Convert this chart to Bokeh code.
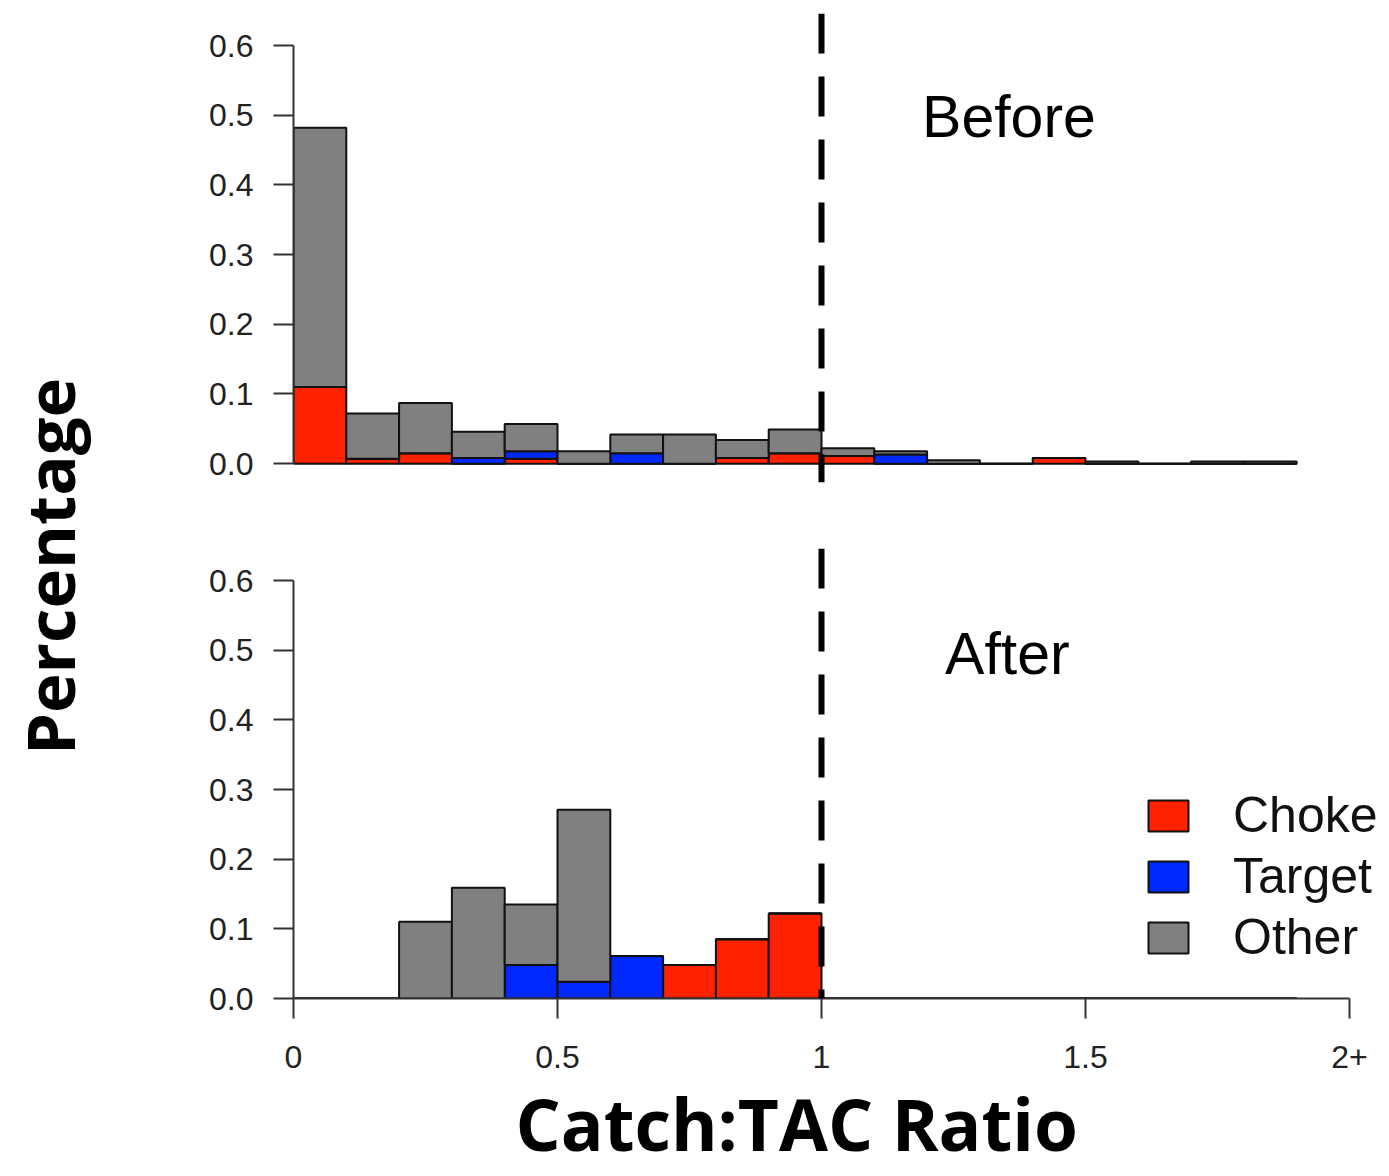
import math
from bokeh.plotting import figure
from bokeh.models import (ColumnDataSource, Range1d, FixedTicker, CustomJSTickFormatter,
                          Span, Label, Legend, LegendItem, Title)
from bokeh.layouts import row, column
from bokeh.embed import file_html
from bokeh.resources import INLINE

# ---------------- data ----------------
bin_starts = [0.0, 0.1, 0.2, 0.3, 0.4, 0.5, 0.6, 0.7, 0.8, 0.9,
              1.0, 1.1, 1.2, 1.3, 1.4, 1.5, 1.6, 1.7, 1.8]
bin_width = 0.1
categories = ["Choke", "Target", "Other"]

before_choke = [0.110, 0.007, 0.015, 0.000, 0.007, 0.000, 0.000, 0.000, 0.008, 0.015,
                0.011, 0.000, 0.000, 0.000, 0.008, 0.000, 0.000, 0.000, 0.000]
before_target = [0.000, 0.000, 0.000, 0.008, 0.011, 0.000, 0.015, 0.000, 0.000, 0.000,
                 0.000, 0.013, 0.000, 0.000, 0.000, 0.000, 0.000, 0.000, 0.000]
before_other = [0.372, 0.065, 0.072, 0.038, 0.039, 0.018, 0.027, 0.042, 0.026, 0.034,
                0.011, 0.005, 0.005, 0.000, 0.000, 0.003, 0.000, 0.003, 0.003]

after_choke = [0.000, 0.000, 0.000, 0.000, 0.000, 0.000, 0.000, 0.048, 0.085, 0.122,
               0.000, 0.000, 0.000, 0.000, 0.000, 0.000, 0.000, 0.000, 0.000]
after_target = [0.000, 0.000, 0.000, 0.000, 0.048, 0.024, 0.061, 0.000, 0.000, 0.000,
                0.000, 0.000, 0.000, 0.000, 0.000, 0.000, 0.000, 0.000, 0.000]
after_other = [0.000, 0.000, 0.110, 0.159, 0.087, 0.247, 0.000, 0.000, 0.000, 0.000,
               0.000, 0.000, 0.000, 0.000, 0.000, 0.000, 0.000, 0.000, 0.000]

y_ticks = [0.0, 0.1, 0.2, 0.3, 0.4, 0.5, 0.6]
y_tick_labels = ["0.0", "0.1", "0.2", "0.3", "0.4", "0.5", "0.6"]
x_ticks = [0.0, 0.5, 1.0, 1.5, 2.0]
x_tick_labels = ["0", "0.5", "1", "1.5", "2+"]
threshold = 1.0

# ---------------- style ----------------
COLORS = ["#FF2200", "#0028FF", "#808080"]
TICK_FONT = "Liberation Sans"
TITLE_FONT = "Open Sans"
AXIS_COLOR = "#333333"

X_END = 2.0606


def make_panel(choke, target, other, width, height, border_top, border_bottom, y_start, show_x):
    p = figure(width=width, height=height, output_backend="svg", toolbar_location=None,
               x_range=Range1d(0, X_END), y_range=Range1d(y_start, 0.646),
               x_axis_location=("below" if show_x else None),
               min_border_left=195, min_border_right=0,
               min_border_top=border_top, min_border_bottom=border_bottom)
    p.outline_line_color = None
    p.xgrid.visible = False
    p.ygrid.visible = False
    p.background_fill_color = "white"

    src = ColumnDataSource(dict(
        x=[s + bin_width / 2 for s in bin_starts],
        choke=choke, target=target, other=other))
    rs = p.vbar_stack(["choke", "target", "other"], x="x", width=bin_width, source=src,
                      fill_color=COLORS, line_color="#111111", line_width=2)

    ya = p.yaxis[0]
    ya.ticker = FixedTicker(ticks=y_ticks)
    ya.formatter = CustomJSTickFormatter(args=dict(labels=y_tick_labels),
                                         code="return labels[index];")
    ya.bounds = (0, 0.6)
    ya.major_tick_out = 20
    ya.major_tick_in = 0
    ya.minor_tick_out = 0
    ya.minor_tick_in = 0
    ya.axis_line_width = 2
    ya.axis_line_color = AXIS_COLOR
    ya.major_tick_line_width = 2
    ya.major_tick_line_color = AXIS_COLOR
    ya.major_label_text_font = TICK_FONT
    ya.major_label_text_font_size = "32px"
    ya.major_label_text_color = "#222222"
    ya.major_label_standoff = 20

    if show_x:
        xa = p.xaxis[0]
        xa.ticker = FixedTicker(ticks=x_ticks)
        xa.formatter = CustomJSTickFormatter(args=dict(labels=x_tick_labels),
                                             code="return labels[index];")
        xa.bounds = (0, 2)
        xa.major_tick_out = 20
        xa.major_tick_in = 0
        xa.minor_tick_out = 0
        xa.minor_tick_in = 0
        xa.axis_line_width = 2
        xa.axis_line_color = AXIS_COLOR
        xa.major_tick_line_width = 2
        xa.major_tick_line_color = AXIS_COLOR
        xa.major_label_text_font = TICK_FONT
        xa.major_label_text_font_size = "32px"
        xa.major_label_text_color = "#222222"
        xa.major_label_standoff = 27

    p.add_layout(Span(location=threshold, dimension="height", line_color="black",
                      line_width=6, line_dash="40 23"))
    return p, rs


top, _ = make_panel(before_choke, before_target, before_other,
                    width=1283, height=508, border_top=13, border_bottom=26,
                    y_start=-0.027, show_x=False)
top.add_layout(Label(x=1.355, y=0.498, text="Before", text_align="center",
                     text_baseline="middle", text_font=TICK_FONT,
                     text_font_size="59px", text_color="black"))

bottom, rs = make_panel(after_choke, after_target, after_other,
                        width=1283, height=668, border_top=40, border_bottom=178,
                        y_start=0.0, show_x=True)
bottom.add_layout(Label(x=1.352, y=0.494, text="After", text_align="center",
                        text_baseline="middle", text_font=TICK_FONT,
                        text_font_size="59px", text_color="black"))
bottom.add_layout(Title(text="Catch:TAC Ratio", align="left", offset=222,
                        text_font=TITLE_FONT, text_font_style="bold",
                        text_font_size="71px", text_color="black", standoff=5),
                  "below")

legend = Legend(items=[LegendItem(label=categories[i], renderers=[rs[i]]) for i in range(3)],
                location=(850, 32), orientation="vertical",
                glyph_width=50, glyph_height=39, label_standoff=40,
                label_text_font=TICK_FONT, label_text_font_size="50px",
                label_text_color="#111111", spacing=3, padding=0, margin=0,
                border_line_color=None, background_fill_alpha=0)
bottom.add_layout(legend)

left = figure(width=98, height=1176, output_backend="svg", toolbar_location=None,
              x_range=Range1d(0, 98), y_range=Range1d(0, 1176),
              x_axis_location=None, y_axis_location=None,
              min_border=0, min_border_left=0, min_border_right=0,
              min_border_top=0, min_border_bottom=0)
left.outline_line_color = None
left.xgrid.visible = False
left.ygrid.visible = False
left.add_layout(Label(x=48, y=610, x_units="screen", y_units="screen",
                      text="Percentage", angle=math.pi / 2, text_align="center",
                      text_baseline="middle", text_font=TITLE_FONT,
                      text_font_style="bold", text_font_size="67px",
                      text_color="black"))

layout = row(left, column(top, bottom, spacing=0), spacing=0)

open("out.html", "w").write(file_html(layout, INLINE))
